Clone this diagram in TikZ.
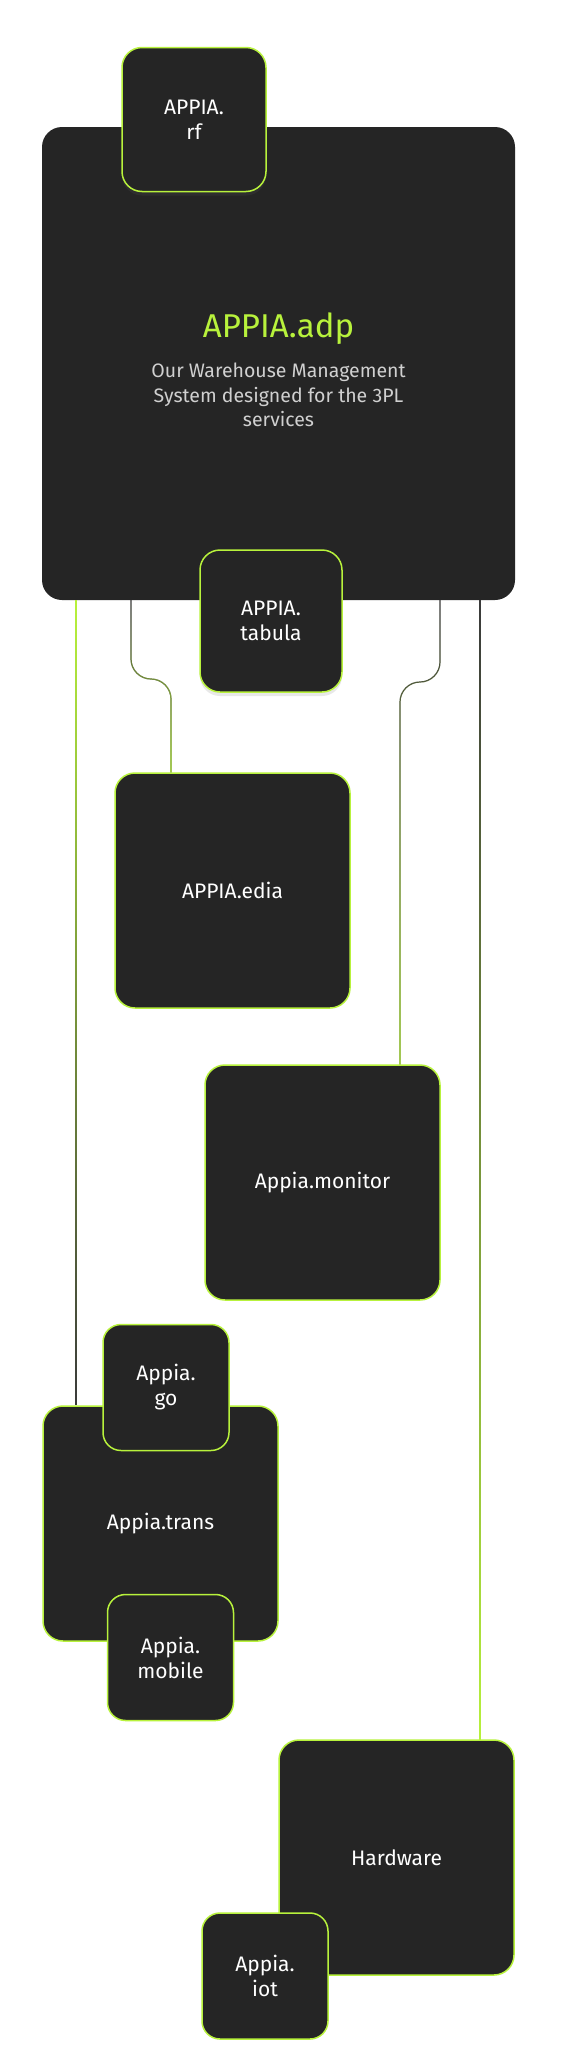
\documentclass[tikz,border=0pt]{standalone}
\usepackage{fontspec}
\setmainfont{Fira Sans}
\usetikzlibrary{positioning, shadows, fadings}

\definecolor{appiadark}{HTML}{252525}
\definecolor{appialime}{HTML}{B8F23C}
\definecolor{wiregray}{HTML}{3A3A3A}
\definecolor{blurbgray}{HTML}{D0D0D0}

\tikzfading[name=wirefade, top color=transparent!100, bottom color=transparent!0]
\tikzfading[name=wirefadequick, top color=transparent!100, middle color=transparent!0, bottom color=transparent!0]

\begin{document}
\begin{tikzpicture}[
		x=1pt, y=-1pt,
		panel/.style={rectangle, rounded corners=20pt, fill=appiadark, text=white, align=center, inner sep=0pt, font=\fontsize{21}{25}\selectfont},
		module/.style={panel, draw=appialime, line width=1.5pt},
		chip/.style={module, minimum width=126pt, minimum height=126pt, rounded corners=18pt},
		tile/.style={module, minimum width=235pt, minimum height=235pt},
		lifted/.style={drop shadow={shadow xshift=0pt, shadow yshift=-4pt, opacity=0.15, fill=black!60}},
		wire/.style={line width=1.2pt},
		]

		\fill[white] (0,0) rectangle (582,2048);
		\useasboundingbox (0,0) rectangle (582,2048);

		% --- bloc principal ---
		\node[panel, minimum width=473pt, minimum height=473pt] (adp) at (278.5,363.5) {};
		\node[anchor=base, text=appialime, font=\fontsize{33}{36}\selectfont] (adptitle) at (278.5,337) {APPIA.adp};
		\node[text=blurbgray, align=center, font=\fontsize{19.5}{24.7}\selectfont] (adpblurb) at (278.5,395) {Our Warehouse Management\\System designed for the 3PL\\services};
		\node[module, lifted, minimum width=144pt, minimum height=144pt] (rf) at (194,119.5) {APPIA.\\rf};
		\node[module, lifted, minimum width=142pt, minimum height=142pt] (tabula) at (271,621) {APPIA.\\tabula};

		% --- modules ---
		\node[tile] (edia) at (232.5,890.5) {APPIA.edia};
		\node[tile] (monitor) at (322.5,1182.5) {Appia.monitor};
		\node[tile] (trans) at (160.5,1523.5) {Appia.trans};
		\node[chip] (go) at (166,1387.5) {Appia.\\go};
		\node[chip] (mobile) at (170.5,1657.5) {Appia.\\mobile};
		\node[tile] (hardware) at (396.5,1857.5) {Hardware};
		\node[chip] (iot) at (265,1976) {Appia.\\iot};

		% --- liaisons ---
		\coordinate (l1) at (76,0);
		\coordinate (l1w) at (72,0);
		\coordinate (l1e) at (80,0);
		\coordinate (l2) at (131,0);
		\coordinate (l2top) at (131,659);
		\coordinate (l2bend) at (151,679);
		\coordinate (l2low) at (171,699);
		\coordinate (l3) at (440,0);
		\coordinate (l3top) at (440,662);
		\coordinate (l3bend) at (420,682);
		\coordinate (l3low) at (400,702);
		\coordinate (l4) at (480,0);
		\coordinate (l4w) at (476,0);
		\coordinate (l4e) at (484,0);

		\draw[wire, appialime] (adp.south -| l1) -- (trans.north -| l1);
		\draw[wire, wiregray, path fading=wirefade] (adp.south -| l1w) (adp.south -| l1e) (adp.south -| l1) -- (trans.north -| l1);

		\draw[wire, wiregray] (adp.south -| l2) -- (l2top) .. controls +(0,11) and +(-11,0) .. (l2bend) .. controls +(11,0) and +(0,-11) .. (l2low) -- (edia.north -| l2low);
		\draw[wire, appialime, path fading=wirefade] (adp.south -| l2) -- (l2top) .. controls +(0,11) and +(-11,0) .. (l2bend) .. controls +(11,0) and +(0,-11) .. (l2low) -- (edia.north -| l2low);

		\draw[wire, wiregray] (adp.south -| l3) -- (l3top) .. controls +(0,11) and +(11,0) .. (l3bend) .. controls +(-11,0) and +(0,-11) .. (l3low) -- (monitor.north -| l3low);
		\draw[wire, appialime, path fading=wirefade] (adp.south -| l3) -- (l3top) .. controls +(0,11) and +(11,0) .. (l3bend) .. controls +(-11,0) and +(0,-11) .. (l3low) -- (monitor.north -| l3low);

		\draw[wire, wiregray] (adp.south -| l4) -- (hardware.north -| l4);
		\draw[wire, appialime, path fading=wirefadequick] (adp.south -| l4w) (adp.south -| l4e) (adp.south -| l4) -- (hardware.north -| l4);

	\end{tikzpicture}
\end{document}
